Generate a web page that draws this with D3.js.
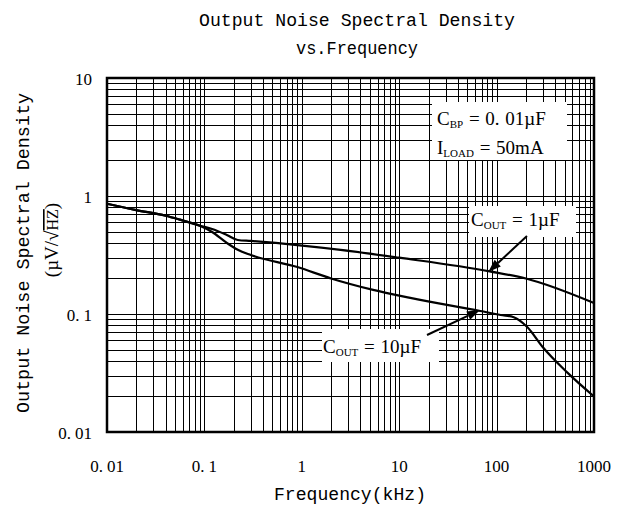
<!DOCTYPE html>
<html>
<head>
<meta charset="utf-8">
<script src="https://cdn.jsdelivr.net/npm/d3@7"></script>
<style>
  html, body { margin: 0; padding: 0; background: #fff; }
  svg { display: block; }
</style>
</head>
<body>
<svg id="chart" width="634" height="510"></svg>
<script>
// ---- data ----
const titleLines = ["Output Noise Spectral Density", "vs.Frequency"];
const xTickValues = [0.01, 0.1, 1, 10, 100, 1000];
const xTickLabels = ["0.01", "0.1", "1", "10", "100", "1000"];
const yTickValues = [0.01, 0.1, 1, 10];
const yTickLabels = ["0.01", "0.1", "1", "10"];

// C_OUT = 1 µF
const cout1Freq  = [0.01, 0.02, 0.04, 0.056, 0.09, 0.12, 0.17, 0.22, 0.3, 0.9, 2.5, 10, 85, 200, 1000];
const cout1Noise = [0.86, 0.76, 0.68, 0.63, 0.56, 0.525, 0.467, 0.424, 0.416, 0.384, 0.35, 0.30, 0.23, 0.20, 0.124];
// C_OUT = 10 µF
const cout10Freq  = [0.01, 0.02, 0.04, 0.056, 0.09, 0.12, 0.17, 0.22, 0.3, 0.9, 2, 5.4, 13, 68, 110, 150, 205, 300, 530, 1000];
const cout10Noise = [0.86, 0.76, 0.68, 0.63, 0.56, 0.495, 0.40, 0.35, 0.316, 0.25, 0.20, 0.16, 0.137, 0.106, 0.098, 0.094, 0.078, 0.052, 0.032, 0.020];

// ---- layout ----
const svg = d3.select("#chart");
const L = 107, R = 594, T = 78, B = 432;
const x = d3.scaleLog().domain([0.01, 1000]).range([L, R]);
const y = d3.scaleLog().domain([0.01, 10]).range([B, T]);
const crisp = v => Math.round(v) + 0.5;
const monoFont = "'Liberation Mono', 'DejaVu Sans Mono', monospace";
const serifFont = "'Liberation Serif', 'DejaVu Serif', serif";

// title
svg.append("text").attr("x", 357).attr("y", 26).attr("text-anchor", "middle")
  .attr("font-family", monoFont).attr("font-size", 19)
  .attr("textLength", 316).attr("lengthAdjust", "spacingAndGlyphs")
  .text(titleLines[0]);
svg.append("text").attr("x", 357).attr("y", 54).attr("text-anchor", "middle")
  .attr("font-family", monoFont).attr("font-size", 19)
  .attr("textLength", 122).attr("lengthAdjust", "spacingAndGlyphs")
  .text(titleLines[1]);

// grid
const grid = svg.append("g").attr("stroke", "#000").attr("stroke-width", 1).attr("shape-rendering", "crispEdges");
grid.selectAll(".vx").data(x.ticks()).join("line")
  .attr("x1", d => crisp(x(d))).attr("x2", d => crisp(x(d)))
  .attr("y1", T).attr("y2", B);
grid.selectAll(".hy").data(y.ticks()).join("line")
  .attr("y1", d => crisp(y(d))).attr("y2", d => crisp(y(d)))
  .attr("x1", L).attr("x2", R);

// annotation boxes (white, hide grid)
const boxes = [
  {x0: 432, y0: 102, x1: 567, y1: 160},
  {x0: 469, y0: 206, x1: 576, y1: 237},
  {x0: 322, y0: 329, x1: 439, y1: 362}
];
svg.selectAll(".box").data(boxes).join("rect")
  .attr("x", d => d.x0).attr("y", d => d.y0)
  .attr("width", d => d.x1 - d.x0).attr("height", d => d.y1 - d.y0)
  .attr("fill", "#fff");

// curves
const line = d3.line().x(d => x(d[0])).y(d => y(d[1])).curve(d3.curveMonotoneX);
const series = [
  d3.zip(cout1Freq, cout1Noise),
  d3.zip(cout10Freq, cout10Noise)
];
svg.selectAll(".curve").data(series).join("path")
  .attr("d", line).attr("fill", "none").attr("stroke", "#000")
  .attr("stroke-width", 2.2).attr("stroke-linejoin", "round");

// frame
svg.append("rect").attr("x", L).attr("y", T).attr("width", R - L).attr("height", B - T)
  .attr("fill", "none").attr("stroke", "#000").attr("stroke-width", 2.5);

// tick labels
function dottedLabel(sel, s) {
  const i = s.indexOf(".");
  if (i < 0) { sel.text(s); return; }
  sel.append("tspan").text(s.slice(0, i + 1));
  sel.append("tspan").attr("dx", 4).text(s.slice(i + 1));
}
xTickValues.forEach((v, i) => {
  const t = svg.append("text").attr("x", x(v)).attr("y", 472).attr("text-anchor", "middle")
    .attr("font-family", serifFont).attr("font-size", 17);
  dottedLabel(t, xTickLabels[i]);
});
yTickValues.forEach((v, i) => {
  const t = svg.append("text").attr("x", 92).attr("y", y(v) + 7).attr("text-anchor", "end")
    .attr("font-family", serifFont).attr("font-size", 17);
  dottedLabel(t, yTickLabels[i]);
});

// axis titles
svg.append("text").attr("x", 350).attr("y", 500).attr("text-anchor", "middle")
  .attr("font-family", monoFont).attr("font-size", 19)
  .attr("textLength", 152).attr("lengthAdjust", "spacingAndGlyphs")
  .text("Frequency(kHz)");
svg.append("text").attr("transform", "translate(29,253) rotate(-90)").attr("text-anchor", "middle")
  .attr("font-family", monoFont).attr("font-size", 19)
  .attr("textLength", 320).attr("lengthAdjust", "spacingAndGlyphs")
  .text("Output Noise Spectral Density");
const yl = svg.append("text").attr("transform", "translate(58,240) rotate(-90)").attr("text-anchor", "middle")
  .attr("font-family", serifFont).attr("font-size", 19);
yl.append("tspan").text("(µV/√");
yl.append("tspan").attr("text-decoration", "overline").attr("font-size", 16).text("HZ");
yl.append("tspan").text(")");

// annotation texts
function subText(xp, yp, main, sub, rest) {
  const t = svg.append("text").attr("x", xp).attr("y", yp)
    .attr("font-family", serifFont).attr("font-size", 19);
  t.append("tspan").text(main);
  t.append("tspan").attr("font-size", 11).attr("dy", 3).text(sub);
  t.append("tspan").attr("dy", -3).attr("word-spacing", 1).text(rest);
  return t;
}
subText(437, 125, "C", "BP", " = 0. 01µF");
subText(437, 154, "I", "LOAD", " = 50mA");
subText(471, 226, "C", "OUT", " = 1µF");
subText(323, 353, "C", "OUT", " = 10µF");

// arrows (tail -> tip, in data coordinates)
const arrows = [
  {from: [205, 0.458], to: [82, 0.227]},
  {from: [19.3, 0.0664], to: [67.6, 0.108]}
];
arrows.forEach(a => {
  const x1 = x(a.from[0]), y1 = y(a.from[1]), x2 = x(a.to[0]), y2 = y(a.to[1]);
  const ang = Math.atan2(y2 - y1, x2 - x1);
  const hl = 13, hw = 4.5;
  const bx = x2 - hl * Math.cos(ang), by = y2 - hl * Math.sin(ang);
  svg.append("line").attr("x1", x1).attr("y1", y1).attr("x2", bx).attr("y2", by)
    .attr("stroke", "#000").attr("stroke-width", 2);
  const px = -Math.sin(ang) * hw, py = Math.cos(ang) * hw;
  svg.append("path")
    .attr("d", `M${x2},${y2}L${bx + px},${by + py}L${bx - px},${by - py}Z`)
    .attr("fill", "#000");
});
</script>
</body>
</html>
